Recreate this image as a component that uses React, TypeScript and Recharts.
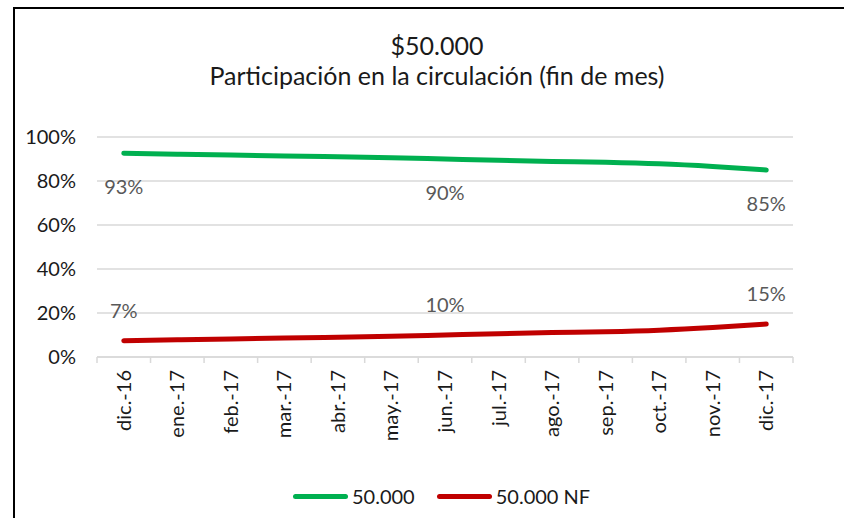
import { LineChart, Line, XAxis, YAxis, CartesianGrid, LabelList } from "recharts";

const months = [
  "dic.-16", "ene.-17", "feb.-17", "mar.-17", "abr.-17", "may.-17", "jun.-17",
  "jul.-17", "ago.-17", "sep.-17", "oct.-17", "nov.-17", "dic.-17",
];
const serie50000 = [92.6, 92.2, 91.8, 91.4, 91.0, 90.6, 90.0, 89.4, 88.9, 88.5, 87.8, 86.6, 85.0];
const serie50000NF = [7.4, 7.8, 8.2, 8.6, 9.0, 9.4, 10.0, 10.6, 11.1, 11.5, 12.2, 13.4, 15.0];
const labelIdx = [0, 6, 12];
const yTicks = [0, 20, 40, 60, 80, 100];

const data = months.map((m, i) => ({ mes: m, a: serie50000[i], b: serie50000NF[i] }));

const FONT = "Lato, 'Open Sans', sans-serif";
const GREEN = "#00b050";
const RED = "#c00000";
const GRID = "#d9d9d9";

const PLOT_W = 696;
const BAND = PLOT_W / months.length;

function XTick(props: any) {
  const { x, y, payload, index } = props;
  return (
    <g>
      <line x1={x - BAND / 2} x2={x - BAND / 2} y1={y - 8} y2={y - 2} stroke={GRID} strokeWidth={1.5} />
      {index === months.length - 1 && (
        <line x1={x + BAND / 2} x2={x + BAND / 2} y1={y - 8} y2={y - 2} stroke={GRID} strokeWidth={1.5} />
      )}
      <text
        x={x}
        y={y + 5}
        transform={`rotate(-90, ${x}, ${y + 5})`}
        textAnchor="end"
        dy="0.35em"
        fontSize={20}
        fill="#1a1a1a"
        fontFamily={FONT}
      >
        {payload.value}
      </text>
    </g>
  );
}

const makeLabel = (offset: number) => (props: any) => {
  const { x, y, value, index } = props;
  if (!labelIdx.includes(index)) return null;
  return (
    <text
      x={x}
      y={y + offset}
      textAnchor="middle"
      dominantBaseline="central"
      fontSize={20}
      fill="#595959"
      fontFamily={FONT}
    >
      {Math.round(value)}%
    </text>
  );
};

function LegendItem({ color, label }: { color: string; label: string }) {
  return (
    <span style={{ display: "inline-flex", alignItems: "center", marginRight: 22 }}>
      <span style={{ width: 55, height: 5, borderRadius: 3, background: color, display: "inline-block", marginRight: 4 }} />
      <span>{label}</span>
    </span>
  );
}

export default function App() {
  return (
    <div style={{ position: "absolute", left: 0, top: 0, width: 844, height: 518, overflow: "hidden", background: "#fff", fontFamily: FONT }}>
      <div style={{ position: "absolute", left: 13, top: 7, width: 900, height: 600, border: "2px solid #000" }} />
      <div style={{ position: "absolute", left: 0, width: 874, top: 30, textAlign: "center", fontSize: 25, color: "#1a1a1a", lineHeight: "30px" }}>
        <div>$50.000</div>
        <div>Participación en la circulación (fin de mes)</div>
      </div>
      <div style={{ position: "absolute", left: 0, top: 0 }}>
        <LineChart width={844} height={518} data={data} margin={{ top: 137, right: 51, left: 17, bottom: 61 }}>
          <CartesianGrid vertical={false} stroke={GRID} strokeWidth={1.5} />
          <XAxis
            dataKey="mes"
            scale="band"
            interval={0}
            height={100}
            axisLine={{ stroke: GRID, strokeWidth: 1.5 }}
            tickLine={false}
            tick={<XTick />}
          />
          <YAxis
            domain={[0, 100]}
            ticks={yTicks}
            width={80}
            axisLine={false}
            tickLine={false}
            tickSize={0}
            tickMargin={21}
            tickFormatter={(v: number) => `${v}%`}
            tick={{ fontSize: 20, fill: "#1a1a1a", fontFamily: FONT }}
          />
          <Line type="monotone" dataKey="a" stroke={GREEN} strokeWidth={5} strokeLinecap="round" dot={false} isAnimationActive={false}>
            <LabelList dataKey="a" content={makeLabel(33)} />
          </Line>
          <Line type="monotone" dataKey="b" stroke={RED} strokeWidth={5} strokeLinecap="round" dot={false} isAnimationActive={false}>
            <LabelList dataKey="b" content={makeLabel(-31)} />
          </Line>
        </LineChart>
      </div>
      <div style={{ position: "absolute", left: 293, top: 484, fontSize: 20, color: "#1a1a1a", display: "flex", alignItems: "center", lineHeight: "24px" }}>
        <LegendItem color={GREEN} label="50.000" />
        <LegendItem color={RED} label="50.000 NF" />
      </div>
    </div>
  );
}
